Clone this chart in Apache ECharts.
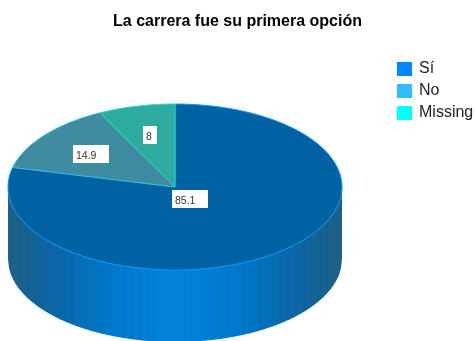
<!DOCTYPE html>
<html><head><meta charset="utf-8">
<style>html,body{margin:0;padding:0;background:#fff}#c{width:476px;height:341px}</style>
<script src="https://cdn.jsdelivr.net/npm/echarts@6/dist/echarts.min.js"></script>
</head><body><div id="c"></div>
<script>
const categories = ['Sí', 'No', 'Missing'];
const values = [85.1, 14.9, 8];
const legendColors = ['#0088ff', '#33bbff', '#00ffff'];
const topColors = ['#0062a3', '#3f8b9f', '#2eab9f'];
const edgeColors = ['#0099ff', '#2fc0e0', '#25d8d0'];
const labelRadius = [0.15, 0.64, 0.64];
const labelDrop = [2, 0, 0];

const cx = 175, cy = 187, rx = 167, ry = 83, depth = 72, stripW = 7.5;
const total = values.reduce((a, b) => a + b, 0);
const TAU = Math.PI * 2;
const pt = (a, dy = 0, k = 1) => [cx + k * rx * Math.sin(a), cy + dy - k * ry * Math.cos(a)];

function arc(a0, a1, dy) {
  const n = Math.max(2, Math.ceil((a1 - a0) * 60));
  const out = [];
  for (let i = 0; i <= n; i++) out.push(pt(a0 + (a1 - a0) * i / n, dy));
  return out;
}
function sliceRange(i) {
  let before = 0;
  for (let j = 0; j < i; j++) before += values[j];
  return [before / total * TAU, (before + values[i]) / total * TAU];
}
const wallStops = [[0, [0, 130, 220]], [0.4, [0, 118, 200]], [0.7, [10, 102, 168]], [0.9, [20, 96, 143]], [1, [31, 95, 133]]];
function wallColor(t) {
  for (let i = 1; i < wallStops.length; i++) {
    const [t1, c1] = wallStops[i], [t0, c0] = wallStops[i - 1];
    if (t <= t1) {
      const k = (t - t0) / (t1 - t0);
      return 'rgb(' + c0.map((v, j) => Math.round(v + (c1[j] - v) * k)).join(',') + ')';
    }
  }
  return 'rgb(31,95,133)';
}
function rimY(x) {
  const u = Math.min(1, Math.abs(x - cx) / rx);
  return cy + ry * Math.sqrt(1 - u * u);
}
function wall() {
  const parts = [];
  for (let x0 = cx - rx; x0 < cx + rx; x0 += stripW) {
    const x1 = Math.min(cx + rx, x0 + stripW + 0.6);
    const top = [], bot = [];
    for (let x = x0; x < x1; x += 1) { top.push([x, rimY(x)]); bot.push([x, rimY(x) + depth]); }
    top.push([x1, rimY(x1)]); bot.push([x1, rimY(x1) + depth]);
    parts.push({
      type: 'polygon', silent: true,
      shape: { points: top.concat(bot.reverse()) },
      style: { fill: wallColor(Math.abs(x0 + stripW / 2 - cx) / rx), stroke: null }
    });
    parts.push({
      type: 'line', silent: true,
      shape: { x1: x0, y1: rimY(x0), x2: x0, y2: rimY(x0) + depth },
      style: { stroke: 'rgba(255,255,255,0.03)', lineWidth: 1 }
    });
  }
  return parts;
}
function renderSlice(i) {
  return function () {
    const [a0, a1] = sliceRange(i);
    const pts = [[cx, cy]].concat(arc(a0, a1, 0));
    return {
      type: 'group',
      children: (i === 0 ? wall() : []).concat([{
        type: 'polygon', silent: true,
        shape: { points: pts },
        style: { fill: topColors[i], stroke: edgeColors[i], lineWidth: 1, lineJoin: 'round' }
      }])
    };
  };
}
function renderLabel(i) {
  return function () {
    const [a0, a1] = sliceRange(i);
    const p = pt((a0 + a1) / 2, labelDrop[i], labelRadius[i]);
    const s = String(values[i]);
    const w = 14 + (s.length - 1) * 7.33, h = 18;
    const bx = Math.round(p[0] - w / 2), by = Math.round(p[1] - h / 2);
    return {
      type: 'group',
      children: [
        { type: 'rect', silent: true, shape: { x: bx, y: by, width: w, height: h }, style: { fill: '#fff', stroke: null } },
        { type: 'text', silent: true, x: bx + 3, y: by + 11,
          style: { text: s, fill: '#333', fontSize: 10.5, fontFamily: 'Liberation Sans', align: 'left', verticalAlign: 'middle' } }
      ]
    };
  };
}
const series = categories.map((name, i) => ({
  type: 'custom', name, coordinateSystem: 'none', silent: true, z: 2,
  itemStyle: { color: legendColors[i] },
  data: [values[i]], renderItem: renderSlice(i)
})).concat(categories.map((name, i) => ({
  type: 'custom', name: name + ' label', coordinateSystem: 'none', silent: true, z: 5,
  data: [values[i]], renderItem: renderLabel(i)
})));

const chart = echarts.init(document.getElementById('c'), null, { renderer: 'canvas' });
chart.setOption({
  animation: false,
  backgroundColor: '#fff',
  title: {
    text: 'La carrera fue su primera opción', left: 232.5, top: 9, textAlign: 'center',
    textStyle: { fontFamily: 'Liberation Sans', fontSize: 16, fontWeight: 'bold', color: '#000' }
  },
  legend: {
    data: categories, orient: 'vertical', left: 397, top: 61, padding: 0,
    itemWidth: 15, itemHeight: 14, itemGap: 6, icon: 'rect', selectedMode: false,
    textStyle: { fontFamily: 'Liberation Sans', fontSize: 16, lineHeight: 16, color: '#222', padding: [0, 0, 0, 2] }
  },
  series
});
</script></body></html>
